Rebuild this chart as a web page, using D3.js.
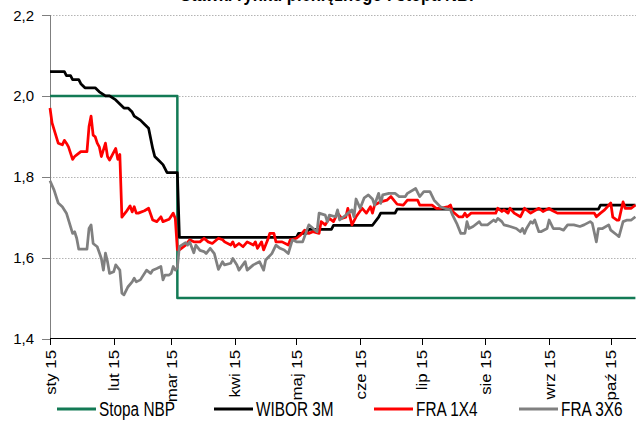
<!DOCTYPE html>
<html>
<head>
<meta charset="utf-8">
<script src="https://cdn.jsdelivr.net/npm/d3@7"></script>
<style>
  body { margin: 0; background: #fff; }
  svg { display: block; font-family: Arial, "Liberation Sans", sans-serif; }
</style>
</head>
<body>
<div id="chart"></div>
<script>
// values (dates are 2015, "MM-DD")
const chartTitle = "Stawki rynku pieniężnego i stopa NBP";
const seriesNames = ["Stopa NBP", "WIBOR 3M", "FRA 1X4", "FRA 3X6"];
const seriesColors = ["#137a55", "#000000", "#ff0000", "#808080"];
const monthLabels = ["sty 15", "lut 15", "mar 15", "kwi 15", "maj 15", "cze 15", "lip 15", "sie 15", "wrz 15", "paź 15"];
const yTicks = [1.4, 1.6, 1.8, 2.0, 2.2];
const dateRange = ["01-01", "10-13"];

const stopaNBP = [["01-01", 2.00], ["03-04", 2.00], ["03-04", 1.50], ["10-13", 1.50]];

const wibor3M = [
  ["01-01", 2.06], ["01-08", 2.06], ["01-09", 2.05], ["01-11", 2.05], ["01-12", 2.04], ["01-15", 2.04],
  ["01-16", 2.03], ["01-18", 2.02], ["01-23", 2.02], ["01-25", 2.01], ["01-28", 2.00], ["01-30", 2.00],
  ["02-02", 1.99], ["02-04", 1.98], ["02-06", 1.97], ["02-08", 1.97], ["02-10", 1.96], ["02-11", 1.95],
  ["02-14", 1.94], ["02-16", 1.93], ["02-18", 1.92], ["02-20", 1.87], ["02-21", 1.85], ["02-23", 1.84],
  ["02-25", 1.83], ["02-27", 1.81], ["03-04", 1.81], ["03-05", 1.65], ["05-01", 1.65], ["05-02", 1.66],
  ["05-06", 1.66], ["05-07", 1.67], ["05-18", 1.67], ["05-19", 1.68], ["06-07", 1.68], ["06-10", 1.70],
  ["06-11", 1.71], ["06-18", 1.71], ["06-19", 1.72], ["09-25", 1.72], ["09-26", 1.73], ["10-13", 1.73]
];

const fra1x4 = [
  ["01-01", 1.97], ["01-02", 1.933], ["01-05", 1.883], ["01-07", 1.879], ["01-08", 1.89], ["01-09", 1.883],
  ["01-10", 1.874], ["01-12", 1.843], ["01-13", 1.85], ["01-14", 1.854], ["01-16", 1.862], ["01-19", 1.862],
  ["01-20", 1.924], ["01-21", 1.95], ["01-22", 1.903], ["01-23", 1.899], ["01-24", 1.883], ["01-25", 1.874],
  ["01-26", 1.85], ["01-28", 1.883], ["01-29", 1.85], ["01-30", 1.841], ["02-02", 1.87], ["02-03", 1.843],
  ["02-04", 1.855], ["02-05", 1.70], ["02-07", 1.713], ["02-09", 1.728], ["02-10", 1.713], ["02-11", 1.726],
  ["02-12", 1.71], ["02-13", 1.71], ["02-16", 1.716], ["02-18", 1.722], ["02-20", 1.693], ["02-22", 1.689],
  ["02-24", 1.701], ["02-25", 1.689], ["02-28", 1.695], ["03-02", 1.71], ["03-03", 1.697], ["03-04", 1.62],
  ["03-05", 1.619], ["03-08", 1.631], ["03-10", 1.644], ["03-12", 1.639], ["03-15", 1.639], ["03-17", 1.648],
  ["03-19", 1.639], ["03-21", 1.635], ["03-24", 1.648], ["03-26", 1.644], ["03-27", 1.639], ["03-30", 1.631],
  ["03-31", 1.639], ["04-01", 1.627], ["04-03", 1.635], ["04-05", 1.627], ["04-07", 1.639], ["04-10", 1.631],
  ["04-11", 1.639], ["04-12", 1.623], ["04-14", 1.639], ["04-15", 1.619], ["04-17", 1.644], ["04-18", 1.66],
  ["04-20", 1.66], ["04-21", 1.639], ["04-24", 1.639], ["04-27", 1.631], ["04-28", 1.644], ["05-01", 1.648],
  ["05-03", 1.656], ["05-05", 1.668], ["05-07", 1.66], ["05-09", 1.664], ["05-12", 1.66], ["05-13", 1.689],
  ["05-15", 1.681], ["05-16", 1.689], ["05-17", 1.697], ["05-19", 1.689], ["05-21", 1.71], ["05-23", 1.697],
  ["05-25", 1.70], ["05-26", 1.722], ["05-28", 1.681], ["05-30", 1.701], ["06-02", 1.722], ["06-04", 1.71],
  ["06-06", 1.726], ["06-07", 1.71], ["06-08", 1.73], ["06-11", 1.738], ["06-14", 1.742], ["06-16", 1.751],
  ["06-19", 1.732], ["06-22", 1.73], ["06-24", 1.742], ["06-29", 1.742], ["06-30", 1.73], ["07-06", 1.73],
  ["07-08", 1.722], ["07-10", 1.722], ["07-14", 1.726], ["07-15", 1.73], ["07-16", 1.714], ["07-19", 1.701],
  ["07-21", 1.701], ["07-22", 1.71], ["07-23", 1.701], ["07-25", 1.71], ["08-06", 1.71], ["08-07", 1.722],
  ["08-09", 1.714], ["08-10", 1.718], ["08-12", 1.71], ["08-13", 1.722], ["08-15", 1.71], ["08-18", 1.701],
  ["08-20", 1.722], ["08-23", 1.71], ["08-27", 1.722], ["08-29", 1.714], ["09-01", 1.722], ["09-02", 1.718],
  ["09-05", 1.71], ["09-23", 1.71], ["09-24", 1.701], ["09-26", 1.71], ["09-28", 1.718], ["10-01", 1.735],
  ["10-02", 1.70], ["10-04", 1.693], ["10-05", 1.693], ["10-07", 1.738], ["10-08", 1.722], ["10-11", 1.722],
  ["10-13", 1.73]
];

const fra3x6 = [
  ["01-01", 1.79], ["01-03", 1.767], ["01-05", 1.735], ["01-07", 1.726], ["01-09", 1.71], ["01-12", 1.66],
  ["01-13", 1.664], ["01-14", 1.648], ["01-15", 1.621], ["01-19", 1.621], ["01-20", 1.672], ["01-21", 1.681],
  ["01-22", 1.635], ["01-24", 1.627], ["01-26", 1.598], ["01-27", 1.569], ["01-28", 1.611], ["01-29", 1.59],
  ["01-30", 1.561], ["02-01", 1.565], ["02-02", 1.582], ["02-04", 1.569], ["02-05", 1.512], ["02-06", 1.508],
  ["02-08", 1.528], ["02-10", 1.54], ["02-11", 1.549], ["02-12", 1.54], ["02-14", 1.545], ["02-15", 1.553],
  ["02-17", 1.569], ["02-19", 1.561], ["02-20", 1.569], ["02-22", 1.573], ["02-24", 1.578], ["02-25", 1.545],
  ["02-26", 1.557], ["02-28", 1.557], ["03-01", 1.561], ["03-02", 1.578], ["03-03", 1.569], ["03-04", 1.575],
  ["03-05", 1.627], ["03-08", 1.637], ["03-09", 1.631], ["03-10", 1.639], ["03-12", 1.612], ["03-13", 1.631],
  ["03-15", 1.618], ["03-17", 1.615], ["03-18", 1.61], ["03-20", 1.623], ["03-22", 1.61], ["03-24", 1.571],
  ["03-26", 1.59], ["03-27", 1.582], ["03-30", 1.586], ["03-31", 1.598], ["04-02", 1.582], ["04-03", 1.569],
  ["04-06", 1.59], ["04-07", 1.569], ["04-10", 1.582], ["04-13", 1.59], ["04-15", 1.569], ["04-16", 1.594],
  ["04-19", 1.61], ["04-21", 1.631], ["04-23", 1.623], ["04-25", 1.619], ["04-27", 1.61], ["04-29", 1.644],
  ["05-01", 1.639], ["05-04", 1.639], ["05-07", 1.681], ["05-08", 1.677], ["05-11", 1.664], ["05-12", 1.71],
  ["05-15", 1.705], ["05-16", 1.689], ["05-17", 1.705], ["05-20", 1.701], ["05-21", 1.718], ["05-22", 1.693],
  ["05-25", 1.705], ["05-28", 1.718], ["05-29", 1.701], ["05-30", 1.745], ["06-01", 1.722], ["06-03", 1.748],
  ["06-05", 1.755], ["06-07", 1.745], ["06-08", 1.73], ["06-10", 1.759], ["06-11", 1.734], ["06-12", 1.755],
  ["06-15", 1.759], ["06-18", 1.759], ["06-20", 1.751], ["06-23", 1.751], ["06-24", 1.759], ["06-28", 1.771],
  ["06-30", 1.751], ["07-02", 1.763], ["07-05", 1.763], ["07-07", 1.742], ["07-10", 1.726], ["07-12", 1.722],
  ["07-15", 1.718], ["07-16", 1.705], ["07-18", 1.685], ["07-20", 1.66], ["07-22", 1.66], ["07-23", 1.689],
  ["07-24", 1.672], ["07-26", 1.677], ["07-29", 1.689], ["07-30", 1.681], ["08-02", 1.681], ["08-05", 1.693],
  ["08-06", 1.689], ["08-07", 1.697], ["08-09", 1.689], ["08-10", 1.681], ["08-13", 1.677], ["08-16", 1.672],
  ["08-18", 1.664], ["08-19", 1.672], ["08-20", 1.66], ["08-21", 1.672], ["08-23", 1.689], ["08-24", 1.685],
  ["08-25", 1.693], ["08-27", 1.664], ["08-28", 1.664], ["08-31", 1.672], ["09-01", 1.693], ["09-03", 1.672],
  ["09-06", 1.672], ["09-08", 1.668], ["09-10", 1.681], ["09-13", 1.681], ["09-16", 1.677], ["09-18", 1.681],
  ["09-21", 1.689], ["09-22", 1.685], ["09-24", 1.639], ["09-25", 1.672], ["09-27", 1.672], ["09-30", 1.681],
  ["10-01", 1.668], ["10-04", 1.656], ["10-05", 1.652], ["10-07", 1.689], ["10-09", 1.693], ["10-11", 1.693],
  ["10-13", 1.701]
];

const allSeries = [stopaNBP, wibor3M, fra1x4, fra3x6];

// ---- drawing ----
const width = 636, height = 427;
const parseDay = d3.timeParse("%Y-%m-%d");
const toDate = s => parseDay("2015-" + s);

const svg = d3.select("#chart").append("svg")
    .attr("width", width)
    .attr("height", height);

svg.append("rect").attr("width", width).attr("height", height).attr("fill", "#fff");

const x = d3.scaleTime()
    .domain(dateRange.map(toDate))
    .range([50, 635.4]);

const y = d3.scaleLinear()
    .domain([1.4, 2.2])
    .range([338.5, 15]);

const fmt = v => d3.format(".1f")(v).replace(".", ",");

// title (cut off at the top edge, as in the original)
svg.append("text")
    .attr("transform", "translate(330,1) scale(1,1.25)")
    .attr("text-anchor", "middle")
    .attr("font-weight", "bold")
    .attr("font-size", "16px")
    .attr("textLength", 300)
    .attr("lengthAdjust", "spacingAndGlyphs")
    .text(chartTitle);

// horizontal dotted gridlines
svg.append("g")
    .selectAll("line")
    .data(yTicks.filter(t => t > 1.4))
    .join("line")
    .attr("x1", 50).attr("x2", width)
    .attr("y1", d => Math.round(y(d)) + 0.5)
    .attr("y2", d => Math.round(y(d)) + 0.5)
    .attr("stroke", "#b4b4b4")
    .attr("stroke-dasharray", "1.5,1.5");

// y axis
const yAxis = svg.append("g");
yAxis.append("line")
    .attr("x1", 50.5).attr("x2", 50.5)
    .attr("y1", y(2.2)).attr("y2", y(1.4))
    .attr("stroke", "#7f7f7f");
yAxis.selectAll(".ytick")
    .data(yTicks)
    .join("line")
    .attr("class", "ytick")
    .attr("x1", 42).attr("x2", 50.5)
    .attr("y1", d => Math.round(y(d)) + 0.5)
    .attr("y2", d => Math.round(y(d)) + 0.5)
    .attr("stroke", "#7f7f7f");
yAxis.selectAll(".ylab")
    .data(yTicks)
    .join("text")
    .attr("class", "ylab")
    .attr("x", 34)
    .attr("y", d => y(d) + 5.5)
    .attr("text-anchor", "end")
    .attr("font-size", "15px")
    .attr("fill", "#000")
    .text(fmt);

// series lines
const line = d3.line()
    .x(d => x(toDate(d[0])))
    .y(d => y(d[1]));

svg.append("g")
    .selectAll("path")
    .data(allSeries)
    .join("path")
    .attr("d", line)
    .attr("fill", "none")
    .attr("stroke", (d, i) => seriesColors[i])
    .attr("stroke-width", (d, i) => i === 0 ? 2.5 : 2.75)
    .attr("stroke-linejoin", "round");

// x axis
const months = d3.timeMonth.range(toDate("01-01"), toDate("10-02"));
const xAxis = svg.append("g");
xAxis.append("line")
    .attr("x1", 50).attr("x2", width)
    .attr("y1", 338.5).attr("y2", 338.5)
    .attr("stroke", "#000");
xAxis.selectAll(".xtick")
    .data(months)
    .join("line")
    .attr("class", "xtick")
    .attr("x1", d => Math.round(x(d)) + 0.5)
    .attr("x2", d => Math.round(x(d)) + 0.5)
    .attr("y1", 338.5).attr("y2", 345)
    .attr("stroke", "#000");
xAxis.selectAll(".xlab")
    .data(months)
    .join("text")
    .attr("class", "xlab")
    .attr("transform", d => `translate(${x(d) + 5.5},350) scale(1,1.2) rotate(-90)`)
    .attr("text-anchor", "end")
    .attr("font-size", "14px")
    .attr("fill", "#000")
    .text((d, i) => monthLabels[i]);

// legend
const legendX = [57, 214, 374, 519];
const legend = svg.append("g");
seriesNames.forEach((name, i) => {
    legend.append("line")
        .attr("x1", legendX[i]).attr("x2", legendX[i] + 39)
        .attr("y1", 409).attr("y2", 409)
        .attr("stroke", seriesColors[i])
        .attr("stroke-width", 3);
    legend.append("text")
        .attr("transform", `translate(${legendX[i] + 42},416) scale(0.96,1.25)`)
        .attr("font-size", "16px")
        .attr("fill", "#000")
        .text(name);
});
</script>
</body>
</html>
